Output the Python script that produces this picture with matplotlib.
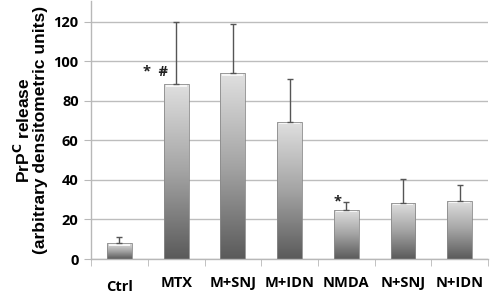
import numpy as np
import matplotlib.pyplot as plt
from matplotlib.colors import LinearSegmentedColormap

categorias = ['Ctrl', 'MTX', 'M+SNJ', 'M+IDN', 'NMDA', 'N+SNJ', 'N+IDN']
valores = [8, 88.5, 94, 69.5, 25, 28.5, 29.5]
errores = [3, 31.5, 25, 21.5, 4, 12, 8]
marcas = {'MTX': '*  #', 'NMDA': '*'}

plt.rcParams['font.family'] = ['Open Sans', 'DejaVu Sans']
fig = plt.figure(figsize=(4.9, 2.94), dpi=100)
ax = fig.add_axes([0.186, 0.119, 0.81, 0.878])

x = np.arange(len(categorias))
ancho = 0.44
gris = LinearSegmentedColormap.from_list('gris', ['#5a5a5a', '#a4a4a4', '#e0e0e0'])
gradiente = np.linspace(0, 1, 256).reshape(-1, 1)

barras = ax.bar(x, valores, ancho, color='none', edgecolor='#8a8a8a', linewidth=0.6, zorder=3)
for b in barras:
    x0, y0 = b.get_x(), b.get_y()
    w, h = b.get_width(), b.get_height()
    im = ax.imshow(gradiente, cmap=gris, aspect='auto', origin='lower',
                   extent=[x0, x0 + w, y0, y0 + h], zorder=2)
    im.set_clip_path(b)
    # brillo en la parte superior
    ax.fill_between([x0 + w * 0.08, x0 + w * 0.92], y0 + h - 1.3, y0 + h,
                    color='#f6f6f6', zorder=2.5, linewidth=0)

ax.errorbar(x, valores, yerr=[np.zeros(len(errores)), errores], fmt='none',
            ecolor='#555555', elinewidth=1, capsize=2.5, capthick=1, zorder=4)

for cat, txt in marcas.items():
    i = categorias.index(cat)
    dx = -0.37 if len(txt) > 1 else -0.16
    dy = 6 if len(txt) > 1 else 4
    ax.text(i + dx, valores[i] + dy, txt, ha='center', va='center',
            fontsize=10.5, fontweight='bold', color='#222222')

ax.set_xlim(-0.5, len(categorias) - 0.5)
ax.set_ylim(0, 130.5)
ax.set_yticks(range(0, 121, 20))
ax.yaxis.grid(True, color='#bdbdbd', linewidth=1, zorder=0)
ax.set_axisbelow(True)
for s in ['top', 'right']:
    ax.spines[s].set_visible(False)
for s in ['left', 'bottom']:
    ax.spines[s].set_color('#b8b8b8')
    ax.spines[s].set_linewidth(1)

ax.set_xticks(np.arange(len(categorias) + 1) - 0.5, minor=True)
ax.set_xticks(x)
ax.set_xticklabels(categorias, fontsize=10.5, fontweight='bold')
ax.tick_params(axis='x', which='major', length=0, pad=12)
ax.tick_params(axis='x', which='minor', length=5, color='#b8b8b8', direction='out')
ax.tick_params(axis='y', length=5, color='#b8b8b8', labelsize=10.5, pad=4)
for lab in ax.get_yticklabels():
    lab.set_fontweight('bold')
ax.get_xticklabels()[0].set_y(-0.015)

ax.set_ylabel('PrP$^{\\mathbf{C}}$ release\n(arbitrary densitometric units)',
              fontsize=12.5, fontweight='bold', family='Liberation Sans',
              labelpad=4, linespacing=1.0)

fig.savefig('out.png', dpi=100)
